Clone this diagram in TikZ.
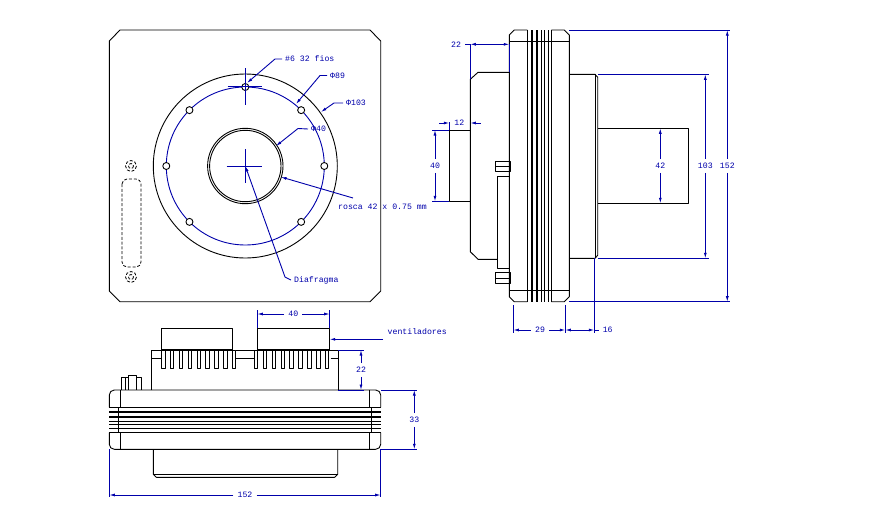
\documentclass[tikz,border=0pt]{standalone}
\usepackage{fontspec}
\setmainfont{Liberation Mono}
\usetikzlibrary{arrows.meta}
\definecolor{dimblue}{RGB}{0,0,170}
\tikzset{
  part/.style={draw=black,line width=0.9pt,line join=round},
  thickpart/.style={draw=black,line width=1.6pt},
  hidden/.style={draw=black,line width=0.8pt,dash pattern=on 3pt off 1.8pt},
  bl/.style={draw=dimblue,line width=0.9pt},
  arr/.style={bl,-{Latex[length=5.5pt,width=3pt]}},
  lbl/.style={text=dimblue,font=\fontsize{8.2}{9}\selectfont,inner sep=4pt},
  lblw/.style={lbl,anchor=west,inner sep=3pt},
}
\begin{document}
\begin{tikzpicture}[x=1pt,y=-1pt]
\useasboundingbox (0,0) rectangle (873,528);
%% ---------- FRONT VIEW ----------
\draw[part] (120,30) -- (370,30) -- (380.7,41) -- (380.7,291) -- (370,301.7) -- (120,301.7) -- (109.3,291) -- (109.3,41) -- cycle;
\draw[part] (245.3,166) circle[radius=92];
\draw[part] (245.3,166) circle[radius=37.7];
\draw[part] (245.3,166) circle[radius=35.7];
\draw[bl] (245.3,166) circle[radius=79];
\foreach \a in {0,45,135,180,225,270,315}{
  \draw[part,fill=white] (245.3,166) ++(\a:79) circle[radius=3.5];
}
\draw[bl] (245.3,68) -- (245.3,105);
\draw[bl] (227.7,86.5) -- (262,86.5);
\draw[bl] (226.7,166) -- (262.3,166);
\draw[bl] (245.3,149) -- (245.3,183);
\draw[hidden,rounded corners=5pt] (122,179) rectangle (141,267);
\draw[hidden] (131,166) circle[radius=5.5];
\draw[hidden] (131,166) circle[radius=2.5];
\draw[hidden] (131,277) circle[radius=5.5];
\draw[hidden] (131,277) circle[radius=2.5];
%% front labels
\node[lblw] (tfios) at (282,59) {\#6 32 fios};
\node[lblw] (t89) at (327,75.5) {Φ89};
\node[lblw] (t103) at (343,103) {Φ103};
\node[lblw] (t40f) at (308,129) {Φ40};
\node[lblw] (trosca) at (335,207) {rosca 42 x 0.75 mm};
\node[lblw] (tdia) at (291,280) {Diafragma};
\coordinate (afios) at (247,83); \coordinate (bfios) at (275,59);
\coordinate (a89) at (296,104); \coordinate (b89) at (320,75.5);
\coordinate (a103) at (321,112); \coordinate (b103) at (334,103);
\coordinate (a40) at (276,146); \coordinate (b40) at (298,128.5);
\coordinate (arosca) at (281,177); \coordinate (brosca) at (353,198);
\coordinate (adia) at (245.3,166); \coordinate (bdia) at (285,277);
\draw[arr] (tfios.west) -- (bfios) -- (afios);
\draw[arr] (t89.west) -- (b89) -- (a89);
\draw[arr] (t103.west) -- (b103) -- (a103);
\draw[arr] (t40f.west) -- (b40) -- (a40);
\draw[arr] (brosca) -- (arosca);
\draw[arr] (tdia.west) -- (bdia) -- (adia);
%% ---------- SIDE VIEW ----------
% flange
\draw[part] (527.3,30) -- (514.3,30) -- (509.3,35) -- (509.3,296.7) -- (514.3,301.7) -- (527.3,301.7);
\draw[part] (551.3,30) -- (564.3,30) -- (569.3,35) -- (569.3,296.7) -- (564.3,301.7) -- (551.3,301.7);
\draw[part] (509.3,41.7) -- (569.3,41.7);
\draw[part] (509.3,290) -- (569.3,290);
\foreach \x in {527.3,541.7,544,548,551.3}{ \draw[part] (\x,30) -- (\x,301.7); }
\draw[thickpart] (531.8,30) -- (531.8,301.7);
\draw[thickpart] (536.7,30) -- (536.7,301.7);
% left body
\draw[part] (509.3,72.3) -- (478,72.3) -- (470.3,79.3) -- (470.3,251.7) -- (478,259.3) -- (497.3,259.3);
\draw[part] (470.3,130) -- (449.3,130) -- (449.3,201.3) -- (470.3,201.3);
\draw[part] (509.3,176) -- (497.3,176) -- (497.3,268.3) -- (509.3,268.3);
\draw[part] (495.3,161.3) rectangle (510.7,171.7);
\draw[part] (495.3,166.3) -- (510.7,166.3);
\draw[part] (495.3,272.3) rectangle (510.7,283.7);
\draw[part] (495.3,278) -- (510.7,278);
% right body
\draw[part] (569.3,74.3) -- (595,74.3) -- (597.7,77.3) -- (597.7,255.3) -- (595,258.3) -- (569.3,258.3);
\draw[part] (595,74.3) -- (595,258.3);
\draw[part] (597.7,128.3) -- (688.7,128.3) -- (688.7,203.3) -- (597.7,203.3);
%% side dimensions
\coordinate (s22a) at (470.3,44.3); \coordinate (s22b) at (509.3,44.3); \coordinate (s22m) at (490,44.3);
\node[lbl] (s22) at (456,44.3) {22};
\draw[bl] (470.3,79.3) -- (s22a);
\draw[bl] (509.3,72.3) -- (s22b);
\draw[bl] (s22) -- (s22a);
\draw[arr] (s22m) -- (s22a);
\draw[arr] (s22m) -- (s22b);
\node[lbl] (s12) at (459.3,123) {12};
\coordinate (s12a) at (449.3,123); \coordinate (s12b) at (470.3,123);
\coordinate (s12c) at (439,123); \coordinate (s12d) at (480.7,123);
\draw[arr] (s12c) -- (s12a);
\draw[arr] (s12d) -- (s12b);
\draw[bl] (449.3,122) -- (449.3,130);
\node[lbl] (s40) at (435,166) {40};
\coordinate (s40a) at (435,130); \coordinate (s40b) at (435,201.3);
\draw[arr] (s40) -- (s40a);
\draw[arr] (s40) -- (s40b);
\draw[bl] (432,130) -- (449.3,130);
\draw[bl] (432,201.3) -- (449.3,201.3);
\node[lbl] (s42) at (660.3,166) {42};
\coordinate (s42a) at (660.3,128.3); \coordinate (s42b) at (660.3,203.3);
\draw[arr] (s42) -- (s42a);
\draw[arr] (s42) -- (s42b);
\node[lbl] (s103) at (705.3,166) {103};
\coordinate (s103a) at (705.3,74.3); \coordinate (s103b) at (705.3,258.3);
\draw[arr] (s103) -- (s103a);
\draw[arr] (s103) -- (s103b);
\draw[bl] (598,74.3) -- (708.7,74.3);
\draw[bl] (598,258.3) -- (708.7,258.3);
\node[lbl] (s152) at (727.3,166) {152};
\coordinate (s152a) at (727.3,30); \coordinate (s152b) at (727.3,301.7);
\draw[arr] (s152) -- (s152a);
\draw[arr] (s152) -- (s152b);
\draw[bl] (569,30) -- (730,30);
\draw[bl] (569,301.7) -- (730,301.7);
\node[lbl] (s29) at (540,330) {29};
\coordinate (s29a) at (513.3,330); \coordinate (s29b) at (565.3,330);
\draw[arr] (s29) -- (s29a);
\draw[arr] (s29) -- (s29b);
\draw[bl] (513.3,305) -- (513.3,333);
\draw[bl] (565.3,305) -- (565.3,333);
\draw[bl] (594.3,258.3) -- (594.3,333);
\node[lbl] (s16) at (607.7,330) {16};
\coordinate (s16a) at (594.3,330); \coordinate (s16m) at (580,330);
\draw[arr] (s16m) -- (s29b);
\draw[arr] (s16m) -- (s16a);
\draw[bl] (s16a) -- (s16);
%% ---------- BOTTOM VIEW ----------
\draw[part] (161.3,328.3) rectangle (232.3,350);
\draw[part] (257.3,328.3) rectangle (329.7,350);
\draw[part] (151.3,390) -- (151.3,350) -- (338.3,350) -- (338.3,390);
\draw[part] (151.3,358.3) -- (161.7,358.3);
\draw[part] (235.7,358.3) -- (254.3,358.3);
\draw[part] (330.7,358.3) -- (338.3,358.3);
\foreach \i in {0,...,8}{
  \pgfmathsetmacro{\xa}{161.7+8.84*\i}
  \draw[part,fill=white] (\xa,350) rectangle (\xa+3.4,368.3);
  \pgfmathsetmacro{\xb}{254.3+8.9*\i}
  \draw[part,fill=white] (\xb,350) rectangle (\xb+3.4,368.3);
}
\draw[line width=1.4pt] (161.3,350) -- (232.3,350);
\draw[line width=1.4pt] (257.3,350) -- (329.7,350);
% screw
\draw[part] (121.3,390) -- (121.3,377) -- (128.3,377) -- (128.3,375.3) -- (136,375.3) -- (136,377) -- (141,377) -- (141,390);
\draw[part] (128.3,377) -- (128.3,390);
\draw[part] (136,377) -- (136,390);
\draw[part] (125.3,377) -- (125.3,390);
% flange
\draw[part,rounded corners=5pt] (109.3,407.3) -- (109.3,390) -- (380.7,390) -- (380.7,407.3);
\draw[part,rounded corners=5pt] (109.3,432.7) -- (109.3,449.3) -- (380.7,449.3) -- (380.7,432.7);
\draw[part] (120.3,390) -- (120.3,407.3);
\draw[part] (120.3,432.7) -- (120.3,449.3);
\draw[part] (369.3,390) -- (369.3,407.3);
\draw[part] (369.3,432.7) -- (369.3,449.3);
\draw[part] (118.3,407.3) -- (118.3,432.7);
\draw[part] (371.3,407.3) -- (371.3,432.7);
\foreach \y in {407.3,421.7,424,428.3,432.7}{ \draw[part] (109.3,\y) -- (380.7,\y); }
\draw[thickpart] (109.3,411.8) -- (380.7,411.8);
\draw[thickpart] (109.3,416.7) -- (380.7,416.7);
% lower body
\draw[part] (153.3,449.3) -- (153.3,474.3) -- (156.3,477.3) -- (334.7,477.3) -- (337.7,474.3) -- (337.7,449.3);
\draw[part] (153.3,474) -- (337.7,474);
%% bottom dimensions
\node[lbl] (b40t) at (293.3,314) {40};
\coordinate (b40a) at (257.3,314); \coordinate (b40b) at (329.7,314);
\draw[arr] (b40t) -- (b40a);
\draw[arr] (b40t) -- (b40b);
\draw[bl] (257.3,310) -- (257.3,328.3);
\draw[bl] (329.7,310) -- (329.7,328.3);
\node[lblw] (bvent) at (384.5,331.5) {ventiladores};
\coordinate (bvs) at (383,339.3); \coordinate (bve) at (329.7,339.3);
\draw[arr] (bvs) -- (bve);
\node[lbl] (b22) at (361,370) {22};
\coordinate (b22a) at (361,350); \coordinate (b22b) at (361,390);
\draw[arr] (b22) -- (b22a);
\draw[arr] (b22) -- (b22b);
\draw[bl] (338.3,350) -- (363.5,350);
\draw[bl] (338.3,390) -- (363.5,390);
\node[lbl] (b33) at (414.3,420) {33};
\coordinate (b33a) at (414.3,390); \coordinate (b33b) at (414.3,449.3);
\draw[arr] (b33) -- (b33a);
\draw[arr] (b33) -- (b33b);
\draw[bl] (381,390) -- (417,390);
\draw[bl] (381,449.3) -- (417,449.3);
\node[lbl] (b152) at (245,495) {152};
\coordinate (b152a) at (109.3,495); \coordinate (b152b) at (380.7,495);
\draw[arr] (b152) -- (b152a);
\draw[arr] (b152) -- (b152b);
\draw[bl] (109.3,449.3) -- (109.3,497);
\draw[bl] (380.7,449.3) -- (380.7,497);
\end{tikzpicture}
\end{document}
